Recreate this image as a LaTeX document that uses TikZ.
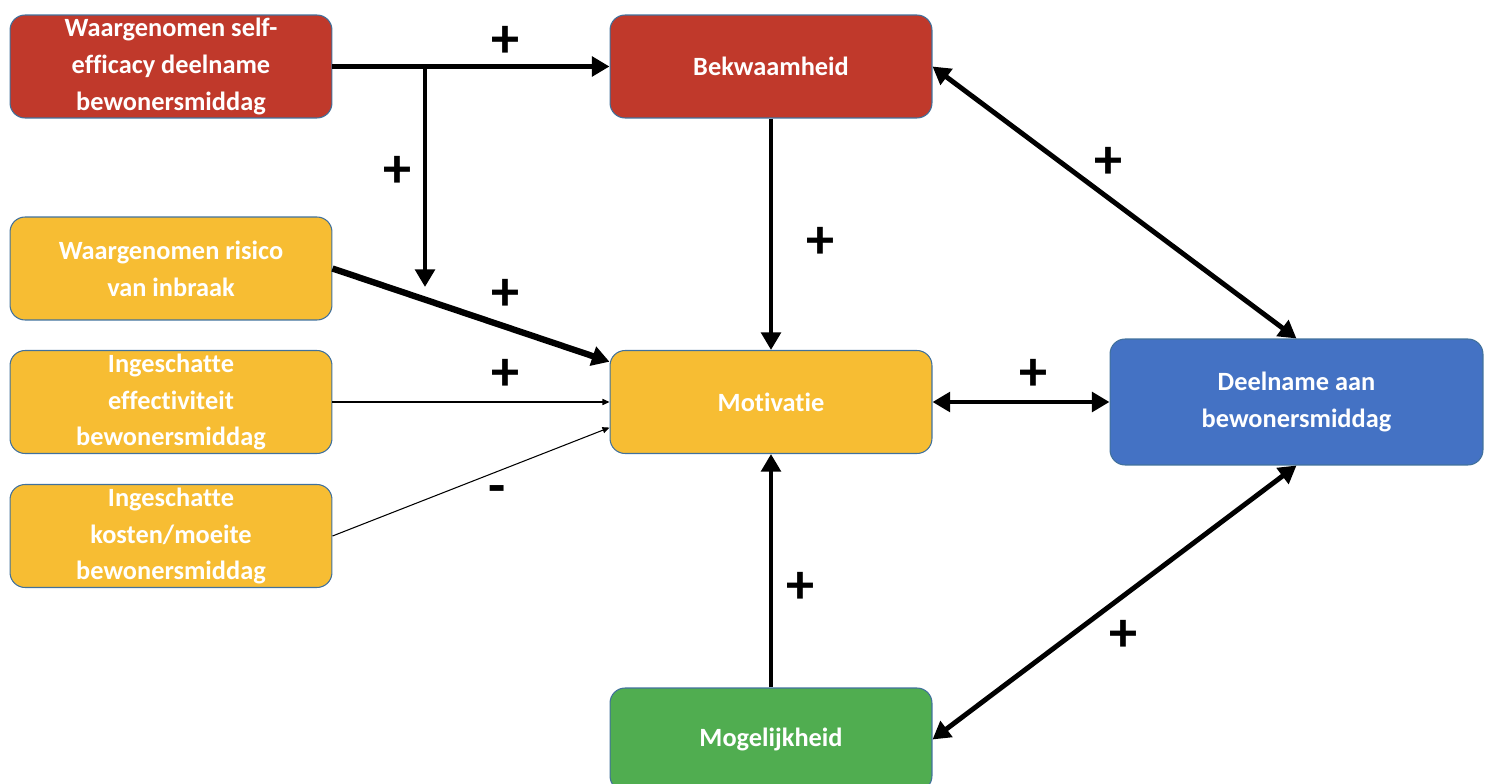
\documentclass[tikz,border=0pt]{standalone}
\usepackage{fontspec}
\setmainfont{Carlito}[Ligatures=NoCommon]
\usetikzlibrary{arrows.meta}

\definecolor{boxred}{RGB}{192,57,43}
\definecolor{boxyellow}{RGB}{247,189,51}
\definecolor{boxblue}{RGB}{68,114,196}
\definecolor{boxgreen}{RGB}{80,173,80}
\definecolor{boxedge}{RGB}{65,113,156}

\tikzset{
  factor/.style={draw=boxedge, line width=0.6pt, rounded corners=0.3cm,
    minimum width=6.44cm, minimum height=2.06cm, inner ysep=0pt, align=center,
    text=white, font=\fontsize{15}{21}\selectfont\bfseries},
  heavyarrow/.style={line width=2.8pt, -{Triangle[length=10pt,width=11pt]}},
  heavyboth/.style={line width=2.8pt, {Triangle[length=10pt,width=11pt]}-{Triangle[length=10pt,width=11pt]}},
  lightarrow/.style={line width=0.6pt, -{Triangle[length=4pt,width=3.5pt]}},
  sign/.style={font=\fontsize{32}{32}\selectfont\bfseries}
}

\begin{document}
\begin{tikzpicture}[x=0.02cm,y=-0.02cm]
\useasboundingbox (0,0) rectangle (1485,784);

% factor boxes
\node[factor, fill=boxred] (self) at (171,66.5) {Waargenomen self-\\efficacy deelname\\bewonersmiddag};
\node[factor, fill=boxred] (bek) at (771,66.5) {Bekwaamheid};
\node[factor, fill=boxyellow] (risico) at (171,268.5) {Waargenomen risico\\van inbraak};
\node[factor, fill=boxyellow] (effect) at (171,402) {Ingeschatte\\effectiviteit\\bewonersmiddag};
\node[factor, fill=boxyellow] (kosten) at (171,536) {Ingeschatte\\kosten/moeite\\bewonersmiddag};
\node[factor, fill=boxyellow] (mot) at (771,402) {Motivatie};
\node[factor, fill=boxblue, minimum width=7.46cm, minimum height=2.52cm] (deel) at (1296.5,402) {Deelname aan\\bewonersmiddag};
\node[factor, fill=boxgreen] (mog) at (771,739.5) {Mogelijkheid};

% connectors
\coordinate (split) at (425,66.5);
\coordinate (splitend) at (425,287);
\draw[heavyarrow] (self.east) -- (bek.west);
\draw[heavyarrow] (split) -- (splitend);
\draw[heavyarrow, line width=3.6pt] (risico.east) -- (mot.166);
\draw[lightarrow] (effect.east) -- (mot.west);
\draw[lightarrow] (kosten.east) -- (mot.189);
\draw[heavyarrow] (bek.south) -- (mot.north);
\draw[heavyarrow] (mog.north) -- (mot.south);
\draw[heavyboth] (mot.east) -- (deel.west);
\draw[heavyboth] (bek.east) -- (deel.north);
\draw[heavyboth] (mog.east) -- (deel.south);

% signs
\node[sign] (s1) at (505,42) {+};
\node[sign] (s2) at (397,172) {+};
\node[sign] (s3) at (505,295) {+};
\node[sign] (s4) at (505,375) {+};
\node[sign] (s5) at (497,495) {-};
\node[sign] (s6) at (820,243) {+};
\node[sign] (s7) at (800,588) {+};
\node[sign] (s8) at (1033,375) {+};
\node[sign] (s9) at (1108,163) {+};
\node[sign] (s10) at (1123,636) {+};
\end{tikzpicture}
\end{document}
